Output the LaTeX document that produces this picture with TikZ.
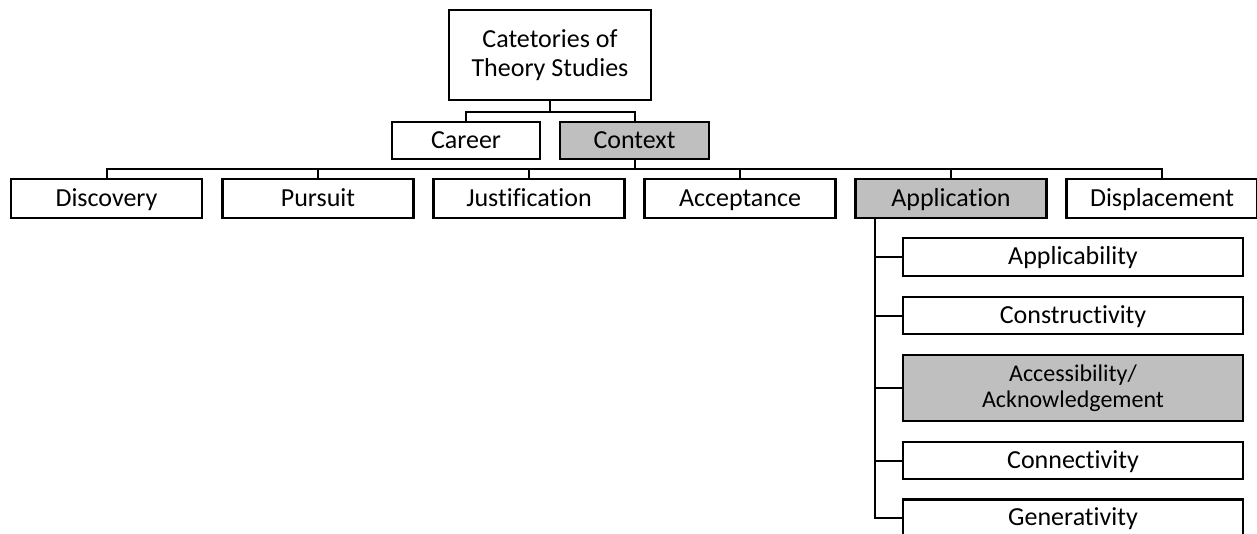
\documentclass[tikz,border=0pt]{standalone}
\usepackage{fontspec}
\setmainfont[Ligatures=NoCommon]{Carlito}
\definecolor{shade}{RGB}{191,191,191}
\begin{document}
\begin{tikzpicture}[x=1pt,y=-1pt,
  box/.style={draw=black,line width=2.4pt,fill=white,inner sep=0pt,align=center,
    font=\fontsize{26}{29}\selectfont},
  oneline/.style={text height=15pt,text depth=0pt},
  rowbox/.style={box,oneline,minimum width=191pt,minimum height=39pt},
  subbox/.style={box,minimum width=340pt,minimum height=37pt},
  hl/.style={fill=shade},
  link/.style={line width=2pt}]
\useasboundingbox (0,0) rectangle (1257,533);

% root and first level
\node[box,minimum width=202pt,minimum height=90pt] (root) at (550,55)
  {Catetories of\\Theory Studies};
\node[box,oneline,minimum width=148pt,minimum height=37pt] (career) at (466,140.5) {Career};
\node[box,oneline,hl,minimum width=149pt,minimum height=37pt] (context) at (634.5,140.5) {Context};

% contexts
\node[rowbox] (disc) at (106.5,198.5) {Discovery};
\node[rowbox] (purs) at (318,198.5) {Pursuit};
\node[rowbox] (just) at (529,198.5) {Justification};
\node[rowbox] (acc) at (740,198.5) {Acceptance};
\node[rowbox,hl] (app) at (951,198.5) {Application};
\node[rowbox] (disp) at (1162,198.5) {Displacement};

% aspects of application
\node[subbox,oneline,minimum height=38pt] (c1) at (1073,257) {Applicability};
\node[subbox,oneline] (c2) at (1073,315.5) {Constructivity};
\node[subbox,hl,minimum height=66pt,font=\fontsize{24}{26}\selectfont] (c3) at (1073,388)
  {Accessibility/\\Acknowledgement};
\node[subbox,oneline] (c4) at (1073,460.5) {Connectivity};
\node[subbox,oneline] (c5) at (1073,518) {Generativity};

% connectors
\coordinate (b1) at (550,112);
\draw[link] (root.south) -- (b1);
\draw[link] (career.north) |- (b1) -| (context.north);

\coordinate (b2) at (634.5,169);
\draw[link] (context.south) -- (b2);
\draw[link] (disc.north) |- (b2) -| (disp.north);
\foreach \n in {purs,just,acc,app}
  \draw[link] (\n.north) -- (\n.north |- b2);

\coordinate (t) at (875,218);
\draw[link] (t) |- (c5.west);
\foreach \n in {c1,c2,c3,c4}
  \draw[link] (t |- \n.west) -- (\n.west);
\end{tikzpicture}
\end{document}
